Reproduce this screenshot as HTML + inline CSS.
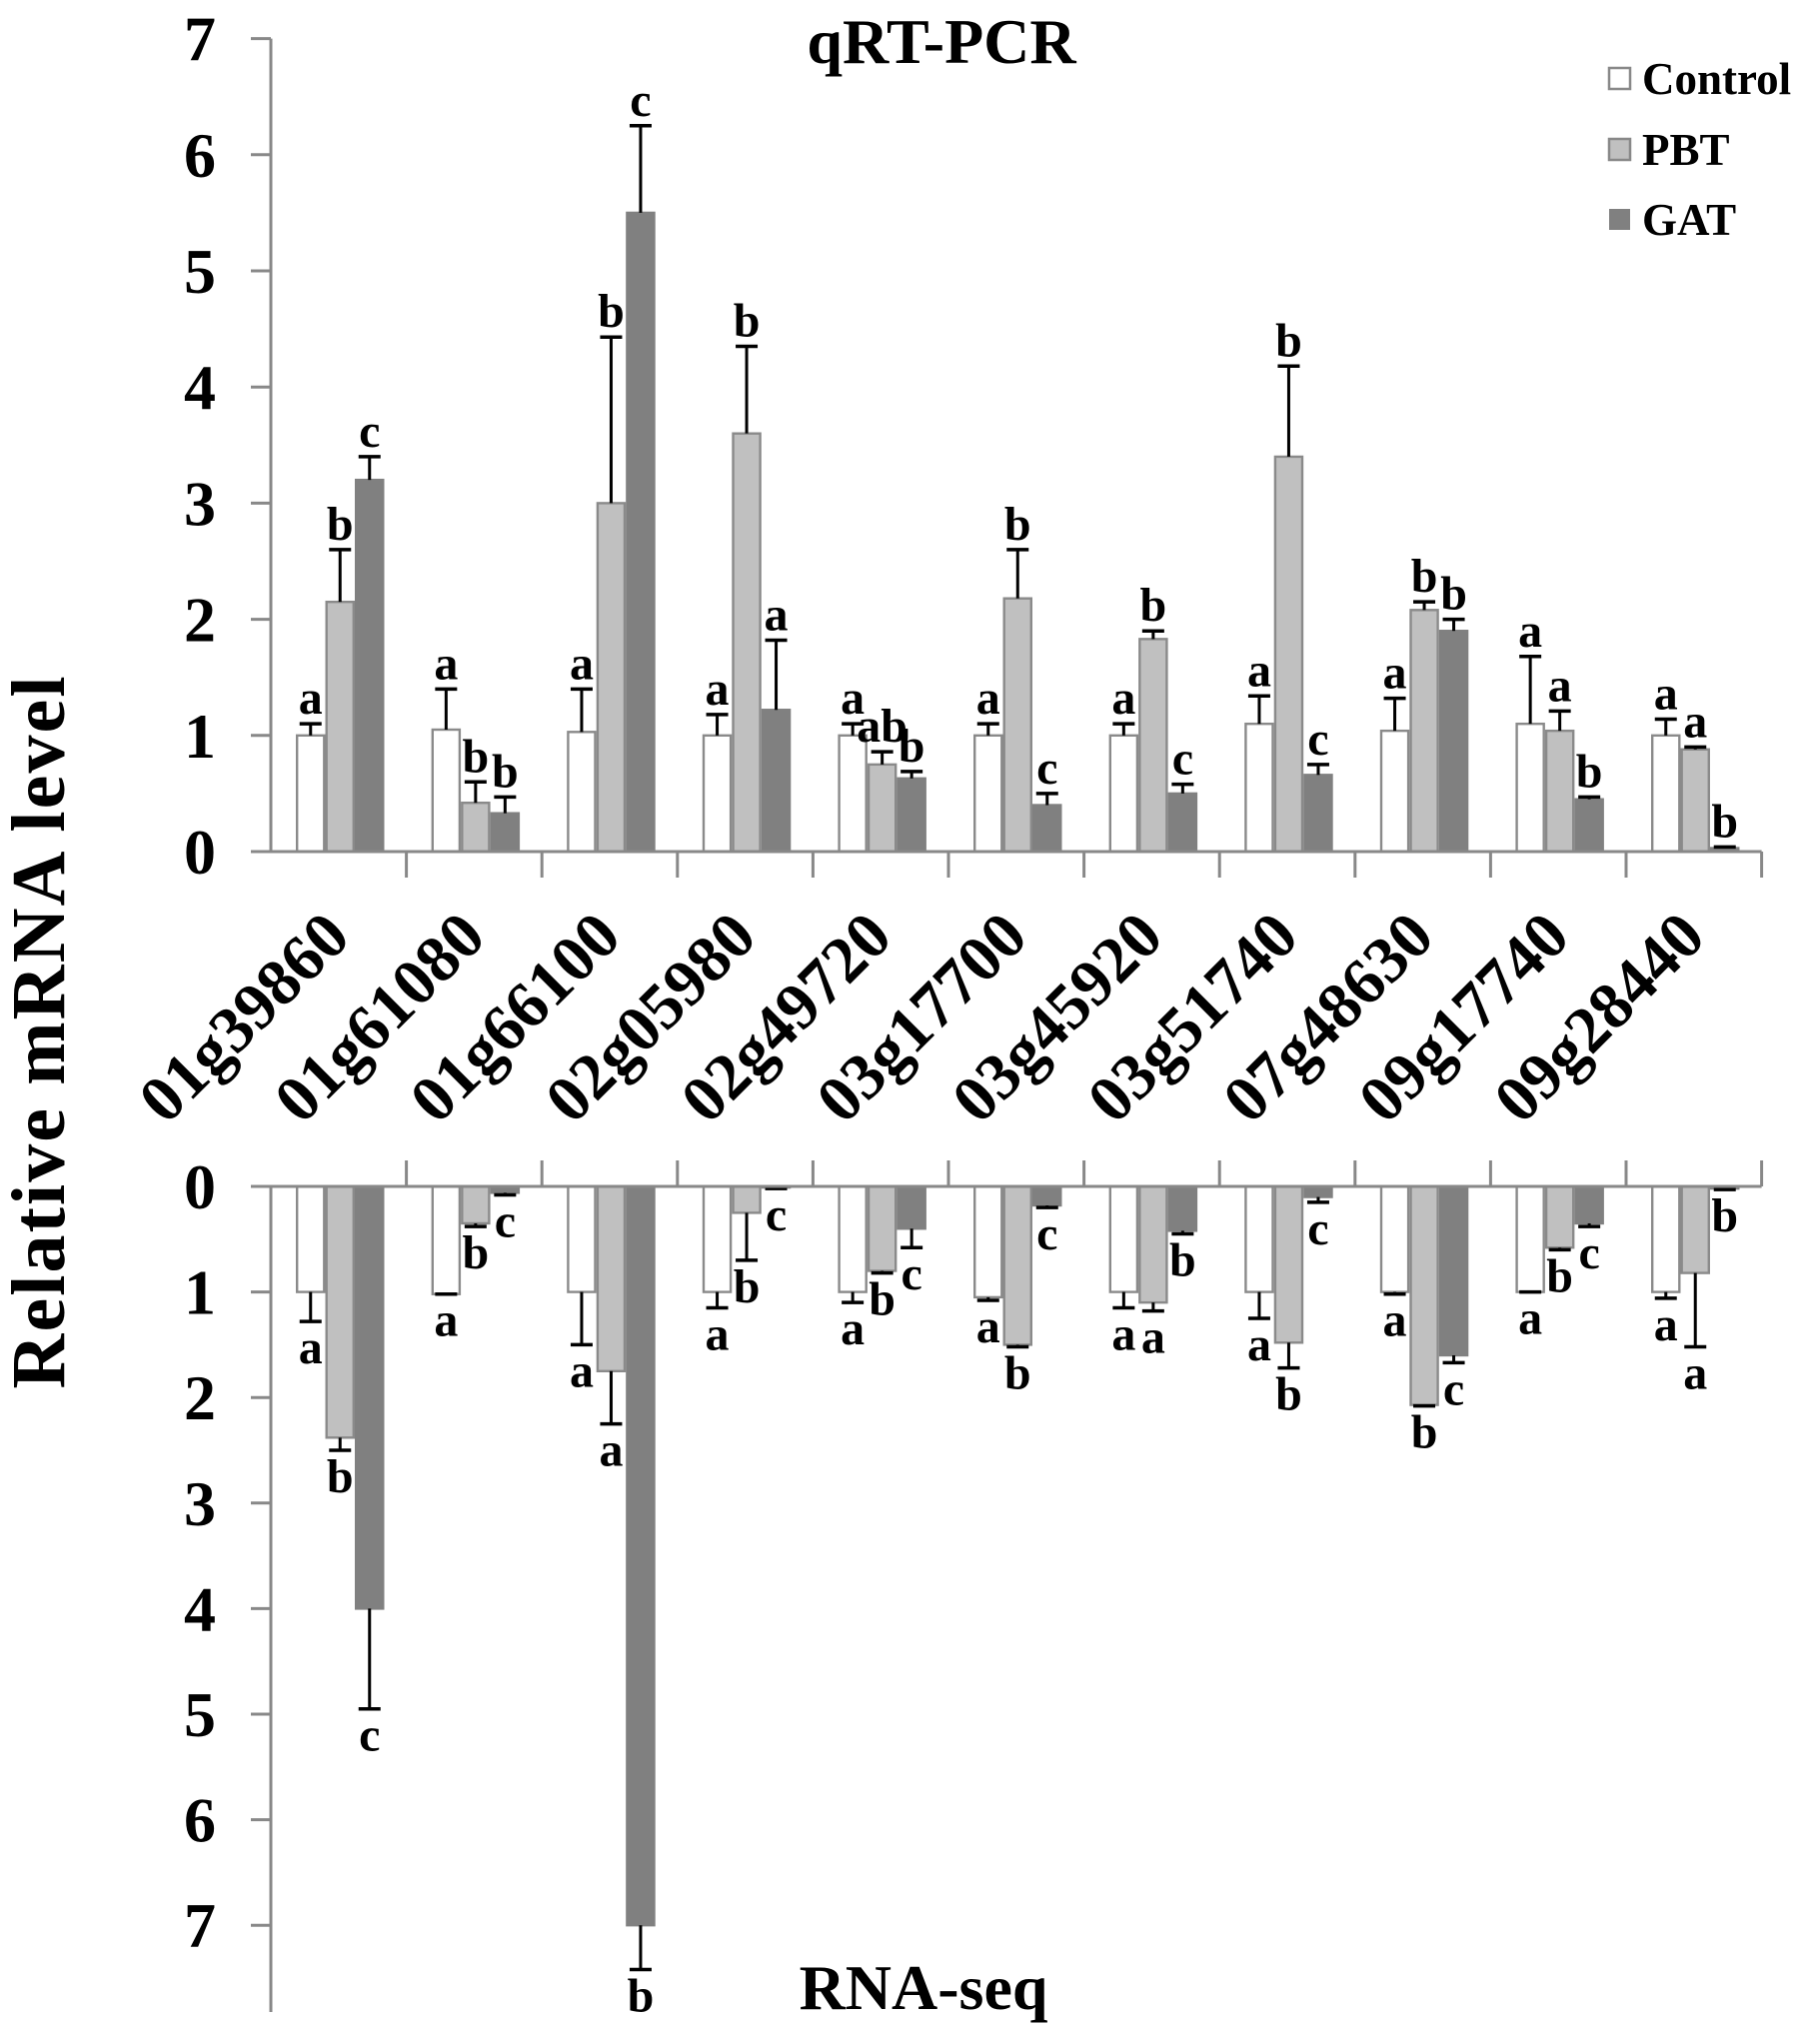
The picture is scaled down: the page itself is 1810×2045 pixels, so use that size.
<!DOCTYPE html>
<html><head><meta charset="utf-8"><style>
html,body{margin:0;padding:0;background:#fff}
svg{display:block}
text{font-family:"Liberation Serif",serif;font-weight:bold;fill:#000}
</style></head><body>
<svg id="chart" width="1810" height="2045" viewBox="0 0 1810 2045" xmlns="http://www.w3.org/2000/svg">
<text x="0" y="0" font-size="76" text-anchor="middle" textLength="713" transform="translate(64,1033) rotate(-90)">Relative mRNA level</text>
<text x="942" y="63" font-size="64" text-anchor="middle">qRT-PCR</text>
<text x="924" y="2010" font-size="64" text-anchor="middle">RNA-seq</text>
<g>
<rect x="1610" y="68" width="21" height="21" fill="#fff" stroke="#888" stroke-width="2.5"/>
<text x="1643" y="94" font-size="45">Control</text>
<rect x="1610" y="139" width="21" height="21" fill="#c0c0c0" stroke="#888" stroke-width="2.5"/>
<text x="1643" y="165" font-size="45">PBT</text>
<rect x="1610" y="209" width="21" height="21" fill="#808080"/>
<text x="1643" y="235" font-size="45">GAT</text>
</g>
<g id="plots"></g>
</svg>
<script>
const categories = ["01g39860","01g61080","01g66100","02g05980","02g49720","03g17700","03g45920","03g51740","07g48630","09g17740","09g28440"];
const seriesNames = ["Control","PBT","GAT"];
const qpcrControl = [1.0,1.05,1.03,1.0,1.0,1.0,1.0,1.1,1.04,1.1,1.0];
const qpcrControlErr = [0.1,0.35,0.37,0.18,0.1,0.1,0.1,0.24,0.28,0.58,0.14];
const qpcrPBT = [2.15,0.42,3.0,3.6,0.75,2.18,1.83,3.4,2.08,1.04,0.88];
const qpcrPBTErr = [0.45,0.18,1.43,0.75,0.11,0.42,0.07,0.78,0.07,0.17,0.02];
const qpcrGAT = [3.2,0.33,5.5,1.22,0.63,0.4,0.5,0.66,1.9,0.45,0.03];
const qpcrGATErr = [0.2,0.14,0.75,0.6,0.06,0.1,0.08,0.09,0.1,0.02,0.01];
const qpcrLetters = [["a","b","c"],["a","b","b"],["a","b","c"],["a","b","a"],["a","ab","b"],["a","b","c"],["a","b","c"],["a","b","c"],["a","b","b"],["a","a","b"],["a","a","b"]];
const seqControl = [1.0,1.02,1.0,1.0,1.0,1.05,1.0,1.0,1.0,1.0,1.0];
const seqControlErr = [0.28,0.0,0.5,0.15,0.1,0.03,0.15,0.25,0.02,0.0,0.06];
const seqPBT = [2.38,0.35,1.75,0.25,0.8,1.5,1.1,1.48,2.07,0.58,0.82];
const seqPBTErr = [0.12,0.03,0.5,0.45,0.02,0.02,0.08,0.24,0.01,0.02,0.7];
const seqGAT = [4.0,0.06,7.0,0.01,0.4,0.18,0.42,0.1,1.6,0.35,0.02];
const seqGATErr = [0.95,0.02,0.42,0.01,0.18,0.02,0.03,0.05,0.07,0.03,0.01];
const seqLetters = [["a","b","c"],["a","b","c"],["a","a","b"],["a","b","c"],["a","b","c"],["a","b","c"],["a","a","b"],["a","b","c"],["a","b","c"],["a","b","c"],["a","a","b"]];
const yTicks = [0,1,2,3,4,5,6,7];

const NS = "http://www.w3.org/2000/svg";
const g = document.getElementById("plots");
const X0 = 271, CATW = 135.6, BARW = 29.5, GOFF = 25;
const fills = ["#ffffff","#c0c0c0","#808080"];
const strokes = ["#8a8a8a","#8a8a8a","#808080"];
function mk(tag, attrs){const e=document.createElementNS(NS,tag);for(const k in attrs)e.setAttribute(k,attrs[k]);g.appendChild(e);return e;}
function xBar(ci, si){return X0 + ci*CATW + GOFF + si*BARW;}
const yTop = v => 852 - v*116.2;
const yBot = v => 1187 + v*105.6;
const xEnd = X0 + categories.length*CATW;

function panel(name, yf, zeroY, endY, down, vals, errs, letters){
  let a = mk("line",{x1:X0,y1:Math.min(zeroY,endY),x2:X0,y2:Math.max(zeroY,endY),stroke:"#888","stroke-width":3});
  
  
  yTicks.forEach(t=>{
    const y=yf(t);
    const tk=mk("line",{x1:X0-20,y1:y,x2:X0,y2:y,stroke:"#888","stroke-width":3});
    
    
    const tl=mk("text",{x:216,y:y+22,"font-size":64,"text-anchor":"end"});
    tl.textContent=t;
    
    
  });
  categories.forEach((c,ci)=>{
    const x=X0+(ci+1)*CATW;
    const tk=mk("line",{x1:x,y1:zeroY,x2:x,y2:down?zeroY-26:zeroY+26,stroke:"#888","stroke-width":3});
    
    
    for(let si=0;si<3;si++){
      const v=vals[si][ci], e=errs[si][ci];
      const bx=xBar(ci,si);
      const y0=zeroY, y1=yf(v);
      const r=mk("rect",{x:bx+1.2,y:Math.min(y0,y1),width:BARW-2.4,height:Math.max(Math.abs(y1-y0),1),fill:fills[si],stroke:strokes[si],"stroke-width":2.4});
      
      
      const cx=bx+BARW/2, ye=yf(v+e);
      const el=mk("line",{x1:cx,y1:y1,x2:cx,y2:ye,stroke:"#000","stroke-width":3});
      
      
      const cap=mk("line",{x1:cx-11,y1:ye,x2:cx+11,y2:ye,stroke:"#000","stroke-width":3.5});
      
      
      const lt=mk("text",{x:cx,y:down?ye+42:ye-10,"font-size":48,"text-anchor":"middle"});
      lt.textContent=letters[ci][si];
      
      
    }
  });
  const xa=mk("line",{x1:X0-20,y1:zeroY,x2:xEnd,y2:zeroY,stroke:"#888","stroke-width":3});
  
  
}
panel("qpcr", yTop, 852, yTop(7), false, [qpcrControl,qpcrPBT,qpcrGAT],[qpcrControlErr,qpcrPBTErr,qpcrGATErr], qpcrLetters);
panel("rnaseq", yBot, 1187, 2013, true, [seqControl,seqPBT,seqGAT],[seqControlErr,seqPBTErr,seqGATErr], seqLetters);

categories.forEach((c,ci)=>{
  const cx=X0+ci*CATW+CATW/2+14;
  const t=mk("text",{x:0,y:0,"font-size":66,"text-anchor":"end",transform:`translate(${cx},${940}) rotate(-45)`});
  t.textContent=c;
  
  
});
</script>
</body></html>
